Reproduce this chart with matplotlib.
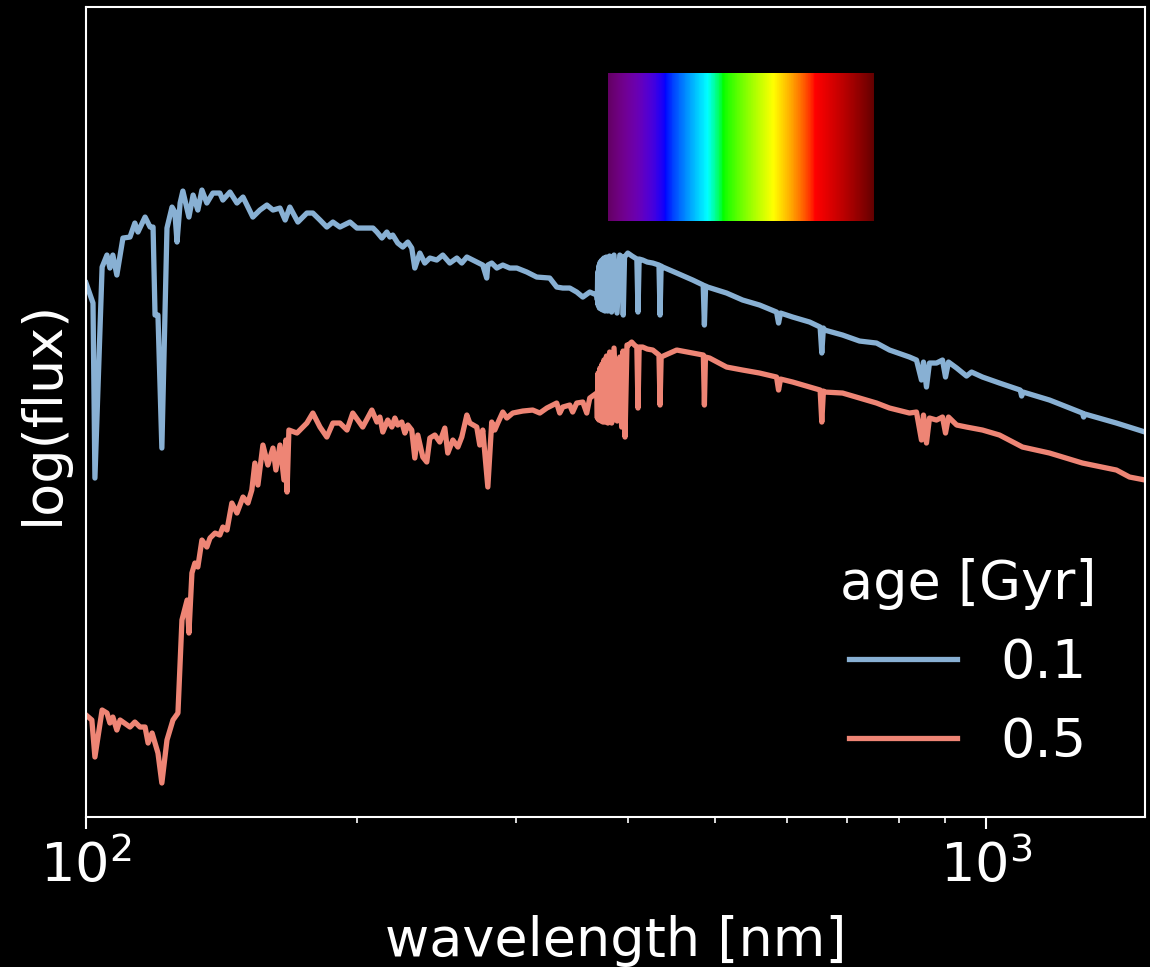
import numpy as np
import matplotlib
matplotlib.use('Agg')
import matplotlib.pyplot as plt
from matplotlib.colors import ListedColormap

# model spectra, wavelength in nm and log(flux) in arbitrary units
blue_wl = [100.0, 101.8, 102.3, 104.2, 105.5, 106.3, 107.1, 108.2, 109.9, 111.9,
           113.3, 114.2, 116.3, 117.8, 118.7, 119.3, 120.2, 121.4, 123.0, 124.6,
           125.5, 126.2, 127.2, 128.1, 130.1, 131.5, 133.1, 134.5, 136.2, 138.3,
           140.8, 141.9, 144.5, 147.1, 149.4, 153.2, 156.0, 158.8, 161.3, 164.2,
           166.4, 168.4, 171.9, 175.9, 178.6, 181.9, 185.1, 188.0, 191.4, 196.4,
           199.9, 205.1, 208.3, 210.4, 213.1, 215.8, 217.5, 219.1, 221.9, 224.8,
           227.7, 230.0, 231.8, 234.8, 237.8, 240.9, 245.2, 249.0, 253.5, 258.1,
           261.4, 264.8, 271.6, 275.8, 278.6, 279.4, 282.2, 285.9, 290.3, 295.5,
           300.9, 308.7, 316.6, 327.3, 333.2, 338.4, 344.5, 350.7, 356.2, 362.6,
           369.1, 369.7, 370.0, 370.4, 371.0, 371.6, 372.4, 373.2, 374.0, 374.9,
           375.9, 377.0, 378.2, 379.7, 381.4, 383.4, 385.8, 388.8, 391.5, 393.8,
           395.0, 396.3, 399.6, 404.0, 409.0, 410.2, 411.4, 415.1, 420.0, 426.0,
           432.8, 434.0, 435.2, 437.0, 452.9, 471.8, 484.6, 486.1, 487.6, 490.1,
           514.5, 536.0, 559.8, 584.6, 587.6, 590.6, 609.2, 636.2, 653.5, 656.3,
           659.0, 661.0, 692.1, 722.8, 754.9, 780.4, 821.3, 836.1, 846.8, 851.2,
           857.7, 864.3, 880.0, 893.6, 900.5, 907.4, 926.6, 950.2, 962.5, 989.8,
           1033.8, 1090.0, 1094.0, 1098.0, 1174.9, 1278.0, 1282.0, 1286.0, 1394.0, 1500.0]
blue_flux = [5.34, 5.14, 3.39, 5.50, 5.62, 5.49, 5.62, 5.42, 5.79, 5.80,
             5.94, 5.85, 6.00, 5.90, 5.90, 5.02, 5.02, 3.69, 5.89, 6.10,
             6.05, 5.75, 6.14, 6.26, 6.00, 6.22, 6.07, 6.27, 6.14, 6.24,
             6.24, 6.17, 6.25, 6.14, 6.20, 6.00, 6.07, 6.12, 6.07, 6.09,
             5.97, 6.10, 5.95, 6.04, 6.04, 5.97, 5.90, 5.95, 5.90, 5.95,
             5.89, 5.89, 5.89, 5.85, 5.79, 5.85, 5.80, 5.82, 5.74, 5.70,
             5.75, 5.69, 5.49, 5.64, 5.54, 5.59, 5.57, 5.62, 5.54, 5.59,
             5.54, 5.60, 5.55, 5.52, 5.39, 5.52, 5.54, 5.49, 5.52, 5.49,
             5.49, 5.45, 5.40, 5.39, 5.30, 5.29, 5.29, 5.25, 5.20, 5.25,
             5.22, 5.17, 5.45, 5.12, 5.51, 5.09, 5.55, 5.08, 5.57, 5.07,
             5.59, 5.06, 5.60, 5.06, 5.61, 5.05, 5.62, 5.04, 5.62, 5.60,
             5.02, 5.60, 5.64, 5.61, 5.58, 5.05, 5.58, 5.57, 5.55, 5.54,
             5.52, 5.02, 5.51, 5.50, 5.44, 5.37, 5.32, 4.92, 5.31, 5.30,
             5.24, 5.17, 5.12, 5.05, 4.94, 5.04, 5.00, 4.95, 4.90, 4.64,
             4.89, 4.87, 4.82, 4.76, 4.74, 4.67, 4.60, 4.57, 4.37, 4.55,
             4.30, 4.54, 4.54, 4.57, 4.40, 4.55, 4.49, 4.41, 4.45, 4.40,
             4.34, 4.27, 4.21, 4.25, 4.17, 4.04, 4.00, 4.03, 3.94, 3.85]

red_wl = [100.0, 101.5, 102.3, 104.2, 105.5, 106.3, 107.1, 108.2, 109.1, 111.9,
          113.3, 114.8, 116.3, 117.2, 118.4, 119.3, 120.2, 121.4, 123.0, 124.9,
          126.5, 127.8, 129.5, 130.1, 131.1, 132.1, 133.1, 134.5, 136.2, 137.3,
          139.1, 140.8, 141.9, 143.4, 145.2, 147.1, 149.4, 151.3, 152.8, 154.0,
          155.2, 157.2, 159.2, 161.3, 162.5, 164.2, 165.9, 166.7, 167.2, 168.0,
          171.5, 175.9, 178.6, 181.9, 185.1, 188.0, 191.4, 194.9, 197.8, 202.9,
          207.7, 210.4, 212.0, 213.6, 216.3, 218.6, 220.3, 221.9, 224.2, 226.0,
          227.7, 230.0, 231.8, 233.6, 236.6, 239.0, 240.9, 244.0, 247.1, 250.3,
          252.2, 255.5, 258.8, 261.4, 264.8, 266.8, 271.6, 273.7, 275.8, 279.4,
          282.2, 284.4, 286.6, 290.3, 293.3, 297.8, 305.5, 313.4, 319.1, 324.9,
          329.9, 333.2, 335.8, 338.4, 344.5, 347.1, 350.7, 356.2, 359.8, 362.6,
          369.1, 369.7, 370.4, 371.2, 372.2, 373.4, 374.2, 375.0, 376.0, 377.1,
          378.4, 379.8, 381.5, 383.5, 385.8, 388.9, 391.5, 393.4, 394.8, 396.8,
          398.8, 400.3, 403.6, 406.5, 409.0, 410.2, 411.4, 415.1, 420.0, 426.0,
          432.8, 434.0, 435.2, 440.0, 452.9, 471.8, 484.8, 486.1, 487.4, 492.6,
          514.5, 536.0, 559.8, 584.6, 587.6, 590.6, 609.2, 636.2, 653.5, 656.3,
          659.0, 661.0, 692.1, 722.8, 754.9, 780.4, 821.3, 836.1, 846.8, 851.2,
          857.7, 864.3, 880.0, 893.6, 900.5, 907.4, 926.6, 950.2, 989.8, 1033.8,
          1096.4, 1174.9, 1278.0, 1394.0, 1441.6, 1500.0]
red_flux = [1.02, 0.97, 0.60, 1.07, 1.04, 0.94, 1.00, 0.87, 0.97, 0.90,
            0.95, 0.90, 0.90, 0.74, 0.84, 0.74, 0.64, 0.34, 0.77, 0.97,
            1.04, 1.97, 2.17, 1.84, 2.44, 2.54, 2.50, 2.77, 2.70, 2.79,
            2.84, 2.82, 2.90, 2.87, 3.14, 3.04, 3.20, 3.14, 3.27, 3.54,
            3.32, 3.72, 3.52, 3.69, 3.47, 3.72, 3.37, 3.77, 3.25, 3.87,
            3.84, 3.94, 4.04, 3.90, 3.80, 3.94, 3.94, 3.87, 4.04, 3.90,
            4.07, 3.95, 4.00, 3.85, 3.97, 3.90, 3.99, 3.92, 3.95, 3.84,
            3.92, 3.87, 3.59, 3.82, 3.60, 3.55, 3.79, 3.82, 3.75, 3.89,
            3.64, 3.77, 3.70, 3.80, 4.02, 3.94, 3.90, 3.72, 3.87, 3.30,
            3.95, 3.87, 3.94, 4.05, 3.99, 4.04, 4.06, 4.07, 4.04, 4.09,
            4.12, 4.14, 4.04, 4.10, 4.12, 4.05, 4.14, 4.15, 4.04, 4.19,
            4.24, 3.99, 4.44, 3.97, 4.49, 3.96, 4.53, 3.95, 4.57, 3.95,
            4.61, 3.94, 4.65, 3.94, 4.69, 3.96, 4.60, 3.90, 4.66, 3.80,
            4.72, 4.72, 4.75, 4.72, 4.70, 4.09, 4.70, 4.70, 4.68, 4.67,
            4.62, 4.12, 4.60, 4.62, 4.67, 4.64, 4.62, 4.12, 4.60, 4.59,
            4.50, 4.47, 4.44, 4.40, 4.27, 4.38, 4.35, 4.30, 4.27, 3.95,
            4.26, 4.25, 4.24, 4.19, 4.14, 4.09, 4.04, 4.05, 3.77, 4.02,
            3.74, 3.99, 3.97, 4.00, 3.84, 4.00, 3.92, 3.90, 3.87, 3.82,
            3.70, 3.64, 3.54, 3.47, 3.40, 3.37]

ages = ['0.1', '0.5']
line_colors = ['#88b0d3', '#ee8575']

# visible band shown as a colour strip
vis_range = [380, 750]
vis_flux = [5.96, 7.44]


def wavelength_to_rgb(w, gamma=0.8):
    if w < 440:
        att = 0.3 + 0.7 * (w - 380) / 60
        return ((-(w - 440) / 60 * att) ** gamma, 0.0, att ** gamma)
    if w < 490:
        return (0.0, ((w - 440) / 50) ** gamma, 1.0)
    if w < 510:
        return (0.0, 1.0, (-(w - 510) / 20) ** gamma)
    if w < 580:
        return (((w - 510) / 70) ** gamma, 1.0, 0.0)
    if w < 645:
        return (1.0, (-(w - 645) / 65) ** gamma, 0.0)
    att = 0.3 + 0.7 * (750 - w) / 105
    return (att ** gamma, 0.0, 0.0)


plt.rcParams['font.family'] = 'DejaVu Sans'
plt.rcParams['font.size'] = 39

fig = plt.figure(figsize=(11.5, 9.67), dpi=100, facecolor='black')
ax = fig.add_axes([0.0748, 0.1551, 0.9209, 0.8376], facecolor='black')

ax.plot(blue_wl, blue_flux, color=line_colors[0], lw=3.8, label=ages[0])
ax.plot(red_wl, red_flux, color=line_colors[1], lw=3.8, label=ages[1])

edges = np.linspace(vis_range[0], vis_range[1], 371)
centers = 0.5 * (edges[1:] + edges[:-1])
cmap = ListedColormap([wavelength_to_rgb(w) for w in centers])
ax.pcolormesh(edges, vis_flux, np.arange(len(centers))[None, :], cmap=cmap,
              shading='flat')

ax.set_xscale('log')
ax.set_xlim(100, 1500)
ax.set_ylim(0, 8.1)
ax.set_yticks([])

for s in ax.spines.values():
    s.set_color('white')
    s.set_linewidth(1.5)
ax.tick_params(axis='x', which='major', colors='white', length=8.5, width=1.5, pad=8)
ax.tick_params(axis='x', which='minor', colors='white', length=4.5, width=1.2,
               labelbottom=False)

ax.set_xlabel('wavelength [nm]', color='white', labelpad=16)
ax.set_ylabel('log(flux)', color='white', labelpad=12)

leg = ax.legend(title='age [Gyr]', frameon=False, loc='lower right',
                title_fontsize=39, fontsize=39)
for t in leg.get_texts():
    t.set_color('white')
leg.get_title().set_color('white')

fig.savefig('out.png', dpi=100, facecolor='black')
